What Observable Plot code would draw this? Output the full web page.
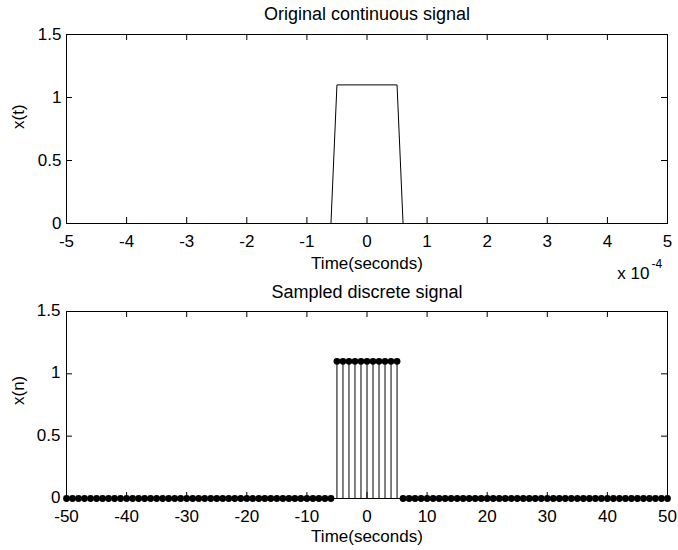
<!DOCTYPE html>
<html>
<head>
<meta charset="utf-8">
<script src="https://cdn.jsdelivr.net/npm/d3@7"></script>
<script src="https://cdn.jsdelivr.net/npm/@observablehq/plot@0.6"></script>
<style>
  html, body { margin: 0; padding: 0; background: #fff; }
  #chart { width: 678px; height: 550px; position: relative; background: #fff; }
  #chart svg { display: block; }
</style>
</head>
<body>
<div id="chart"></div>
<script>
// ---- Data ----
// Top panel: continuous signal (time in seconds)
const contTime = [-5e-4, -0.6e-4, -0.5e-4, 0.5e-4, 0.6e-4, 5e-4];
const contValue = [0, 0, 1.1, 1.1, 0, 0];

// Bottom panel: sampled discrete signal
const sampleIndex = [
  -50,-49,-48,-47,-46,-45,-44,-43,-42,-41,-40,-39,-38,-37,-36,-35,-34,-33,-32,-31,
  -30,-29,-28,-27,-26,-25,-24,-23,-22,-21,-20,-19,-18,-17,-16,-15,-14,-13,-12,-11,
  -10,-9,-8,-7,-6,-5,-4,-3,-2,-1,0,1,2,3,4,5,6,7,8,9,
  10,11,12,13,14,15,16,17,18,19,20,21,22,23,24,25,26,27,28,29,
  30,31,32,33,34,35,36,37,38,39,40,41,42,43,44,45,46,47,48,49,50
];
const sampleValue = [
  0,0,0,0,0,0,0,0,0,0,0,0,0,0,0,0,0,0,0,0,
  0,0,0,0,0,0,0,0,0,0,0,0,0,0,0,0,0,0,0,0,
  0,0,0,0,0,1.1,1.1,1.1,1.1,1.1,1.1,1.1,1.1,1.1,1.1,1.1,0,0,0,0,
  0,0,0,0,0,0,0,0,0,0,0,0,0,0,0,0,0,0,0,0,
  0,0,0,0,0,0,0,0,0,0,0,0,0,0,0,0,0,0,0,0,0
];

// Tick values
const topXTicks = [-5e-4, -4e-4, -3e-4, -2e-4, -1e-4, 0, 1e-4, 2e-4, 3e-4, 4e-4, 5e-4];
const topXTickLabels = ["-5", "-4", "-3", "-2", "-1", "0", "1", "2", "3", "4", "5"];
const bottomXTicks = [-50, -40, -30, -20, -10, 0, 10, 20, 30, 40, 50];
const yTicks = [0, 0.5, 1, 1.5];
const yTickLabels = ["0", "0.5", "1", "1.5"];

// Text
const topTitle = "Original continuous signal";
const bottomTitle = "Sampled discrete signal";
const xLabel = "Time(seconds)";
const topYLabel = "x(t)";
const bottomYLabel = "x(n)";
const exponentBase = "x 10";
const exponentPower = "-4";

// ---- Layout ----
const W = 678, H = 275;
const ML = 66, MR = 11;
const FONT = "'Liberation Sans', Arial, Helvetica, sans-serif";
const FS = 17;
const TFS = 18;
const TICK = 6;

const contData = contTime.map((t, i) => ({t, v: contValue[i]}));
const sampleData = sampleIndex.map((n, i) => ({n, v: sampleValue[i]}));

function boxTicks(xTicks, frameW, frameH) {
  return [
    Plot.ruleX(xTicks, {x: d => d, insetTop: frameH - TICK, stroke: "black", strokeWidth: 1}),
    Plot.ruleX(xTicks, {x: d => d, insetBottom: frameH - TICK, stroke: "black", strokeWidth: 1}),
    Plot.ruleY(yTicks, {y: d => d, insetRight: frameW - TICK, stroke: "black", strokeWidth: 1}),
    Plot.ruleY(yTicks, {y: d => d, insetLeft: frameW - TICK, stroke: "black", strokeWidth: 1})
  ];
}

// Top panel
{
  const MT = 34, MB = 52;
  const frameW = W - ML - MR, frameH = H - MT - MB;
  const svg = Plot.plot({
    width: W, height: H,
    marginLeft: ML, marginRight: MR, marginTop: MT, marginBottom: MB,
    style: {fontFamily: FONT, fontSize: FS + "px", color: "black", background: "white", overflow: "visible"},
    x: {domain: [-5e-4, 5e-4]},
    y: {domain: [0, 1.5]},
    marks: [
      Plot.line(contData, {x: "t", y: "v", stroke: "black", strokeWidth: 1}),
      ...boxTicks(topXTicks, frameW, frameH),
      Plot.frame({stroke: "black", strokeWidth: 1}),
      Plot.axisX({ticks: topXTicks, tickSize: 0, tickPadding: 11, tickFormat: d => topXTickLabels[topXTicks.indexOf(d)], label: null, fontSize: FS, fill: "black"}),
      Plot.axisY({ticks: yTicks, tickSize: 0, tickPadding: 5, tickFormat: d => yTickLabels[yTicks.indexOf(d)], label: null, fontSize: FS, fill: "black"}),
      Plot.text([topTitle], {text: d => d, frameAnchor: "top", dy: -20, lineAnchor: "middle", fontSize: TFS, fill: "black"}),
      Plot.text([xLabel], {text: d => d, frameAnchor: "bottom", dy: 40, lineAnchor: "middle", fontSize: FS, fill: "black"}),
      Plot.text([topYLabel], {text: d => d, frameAnchor: "left", dx: -48, rotate: -90, lineAnchor: "middle", fontSize: FS, fill: "black"}),
      Plot.text([exponentBase], {text: d => d, frameAnchor: "bottom-right", dx: -18, dy: 50, textAnchor: "end", lineAnchor: "middle", fontSize: FS, fill: "black"}),
      Plot.text([exponentPower], {text: d => d, frameAnchor: "bottom-right", dx: -16, dy: 41, textAnchor: "start", lineAnchor: "middle", fontSize: 12, fill: "black"})
    ]
  });
  document.getElementById("chart").appendChild(svg);
}

// Bottom panel
{
  const MT = 36, MB = 52;
  const frameW = W - ML - MR, frameH = H - MT - MB;
  const svg = Plot.plot({
    width: W, height: H,
    marginLeft: ML, marginRight: MR, marginTop: MT, marginBottom: MB,
    style: {fontFamily: FONT, fontSize: FS + "px", color: "black", background: "white", overflow: "visible"},
    x: {domain: [-50, 50]},
    y: {domain: [0, 1.5]},
    marks: [
      ...boxTicks(bottomXTicks, frameW, frameH),
      Plot.frame({stroke: "black", strokeWidth: 1}),
      Plot.ruleX(sampleData, {x: "n", y1: 0, y2: "v", stroke: "black", strokeWidth: 1}),
      Plot.dot(sampleData, {x: "n", y: "v", r: 3.4, fill: "black", stroke: "none"}),
      Plot.axisX({ticks: bottomXTicks, tickSize: 0, tickPadding: 11, tickFormat: d => String(d), label: null, fontSize: FS, fill: "black"}),
      Plot.axisY({ticks: yTicks, tickSize: 0, tickPadding: 6, tickFormat: d => yTickLabels[yTicks.indexOf(d)], label: null, fontSize: FS, fill: "black", dy: -1}),
      Plot.text([bottomTitle], {text: d => d, frameAnchor: "top", dy: -19, lineAnchor: "middle", fontSize: TFS, fill: "black"}),
      Plot.text([xLabel], {text: d => d, frameAnchor: "bottom", dy: 38, lineAnchor: "middle", fontSize: FS, fill: "black"}),
      Plot.text([bottomYLabel], {text: d => d, frameAnchor: "left", dx: -48, rotate: -90, lineAnchor: "middle", fontSize: FS, fill: "black"})
    ]
  });
  document.getElementById("chart").appendChild(svg);
}
</script>
</body>
</html>
